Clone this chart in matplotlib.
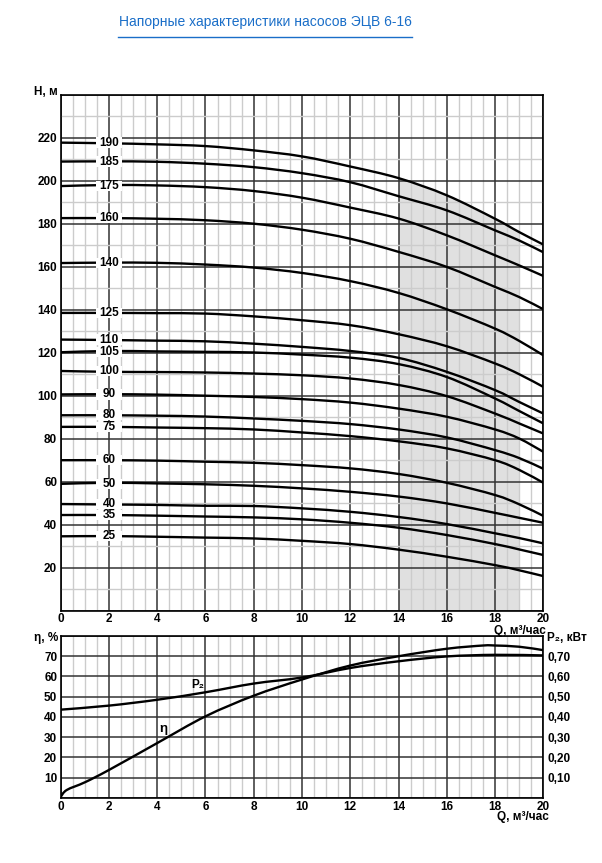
import numpy as np
import matplotlib.pyplot as plt
from matplotlib.patches import Rectangle, PathPatch
from matplotlib.path import Path
from matplotlib.lines import Line2D
from matplotlib.ticker import MultipleLocator, FuncFormatter

plt.rcParams['font.family'] = ['Liberation Sans', 'DejaVu Sans']
plt.rcParams['font.weight'] = 'bold'

# flow points, m3/h
q = [0, 2, 4, 6, 8, 10, 12, 14, 16, 18, 19, 20]

# head curves, m (one per pump model / stage count)
h190 = [217.7, 217.4, 216.9, 216.1, 214.1, 211.3, 206.6, 201.2, 193.2, 182.3, 176.1, 170.3]
h185 = [208.9, 209.0, 208.8, 207.9, 206.3, 203.5, 199.3, 192.8, 186.2, 176.9, 172.2, 166.7]
h175 = [197.5, 198.0, 197.8, 197.0, 195.2, 192.1, 187.5, 182.4, 174.6, 165.3, 160.6, 155.7]
h160 = [182.6, 182.6, 182.3, 181.6, 180.0, 177.2, 173.0, 166.9, 159.9, 150.6, 145.9, 140.2]
h140 = [161.7, 161.9, 161.8, 161.0, 159.6, 157.1, 153.3, 147.8, 140.2, 131.2, 125.5, 118.8]
h125 = [138.5, 138.5, 138.4, 138.2, 136.9, 135.1, 132.8, 128.6, 123.0, 115.0, 110.0, 104.1]
h110 = [126.1, 125.9, 125.6, 125.3, 124.2, 122.7, 120.8, 117.6, 111.1, 102.6, 97.1, 91.7]
h105 = [120.2, 120.8, 120.6, 120.4, 120.1, 119.1, 117.7, 114.7, 108.7, 98.7, 92.9, 87.1]
h100 = [111.5, 111.1, 111.0, 110.8, 110.3, 109.5, 108.0, 105.0, 99.8, 91.7, 87.1, 82.4]
h90 = [100.6, 100.7, 100.5, 100.0, 99.4, 98.4, 96.8, 94.0, 90.2, 84.3, 80.1, 73.9]
h80 = [90.9, 90.9, 90.7, 90.3, 89.4, 88.3, 86.8, 84.3, 80.6, 74.7, 71.0, 66.0]
h75 = [85.5, 85.5, 85.2, 84.9, 84.3, 82.9, 81.2, 78.8, 75.5, 70.0, 65.5, 59.5]
h60 = [70.0, 70.0, 69.8, 69.3, 68.8, 67.7, 66.2, 63.6, 59.5, 53.8, 49.5, 44.1]
h50 = [59.0, 59.5, 59.2, 58.8, 58.1, 56.9, 55.3, 53.1, 49.9, 45.5, 43.2, 40.9]
h40 = [49.6, 49.4, 49.2, 48.8, 48.7, 47.6, 46.0, 43.6, 40.3, 36.0, 33.8, 31.3]
h35 = [44.5, 44.5, 44.2, 43.8, 43.4, 42.5, 40.9, 38.6, 35.2, 31.0, 28.5, 25.9]
h25 = [34.6, 34.7, 34.4, 34.0, 33.6, 32.5, 31.0, 28.4, 25.1, 21.2, 18.8, 16.1]

labels = ['190', '185', '175', '160', '140', '125', '110', '105', '100',
          '90', '80', '75', '60', '50', '40', '35', '25']
heads = [h190, h185, h175, h160, h140, h125, h110, h105, h100,
         h90, h80, h75, h60, h50, h40, h35, h25]

# working range
q_lo, q_hi = 14, 19

# efficiency and power
q_eta = [0, 0.25, 1, 2, 4, 6, 8, 10, 12, 14, 16, 17.5, 18, 19, 20]
eta = [0.5, 3.9, 7.7, 13.8, 27.1, 40.3, 50.5, 58.5, 65.4, 70.0, 73.7, 75.3, 75.3, 74.7, 73.0]
q_p2 = [0, 2, 4, 6, 8, 10, 12, 14, 16, 18, 20]
p2 = [0.436, 0.456, 0.485, 0.522, 0.565, 0.595, 0.642, 0.675, 0.699, 0.707, 0.704]

W, H = 602, 863
blue = '#1a6ec8'
fig = plt.figure(figsize=(W / 100, H / 100), dpi=100)


def fx(px):
    return px / W


def fy(py):
    return 1 - py / H


def smooth(ax, x, y, **kw):
    # curve through the read points (catmull-rom drawn as bezier segments)
    pts = np.column_stack([x, y]).astype(float)
    verts = [pts[0]]
    codes = [Path.MOVETO]
    n = len(pts)
    for i in range(n - 1):
        p0 = pts[i - 1] if i > 0 else pts[i]
        p1, p2_ = pts[i], pts[i + 1]
        p3 = pts[i + 2] if i + 2 < n else pts[i + 1]
        verts += [p1 + (p2_ - p0) / 6, p2_ - (p3 - p1) / 6, p2_]
        codes += [Path.CURVE4] * 3
    ax.add_patch(PathPatch(Path(verts, codes), fc='none', **kw))


x0, x1 = 60.7, 543.3
fs = 8.5

# ---- head chart
ax = fig.add_axes([fx(x0), fy(610.7), (x1 - x0) / W, (610.7 - 94.7) / H])
ax.set_xlim(0, 20)
ax.set_ylim(0, 240)
ax.xaxis.set_major_locator(MultipleLocator(2))
ax.xaxis.set_minor_locator(MultipleLocator(0.5))
ax.yaxis.set_major_locator(MultipleLocator(20))
ax.yaxis.set_minor_locator(MultipleLocator(10))
ax.grid(which='minor', color='#cccccc', lw=1.0)
ax.grid(which='major', color='#333333', lw=1.1)
ax.yaxis.set_major_formatter(FuncFormatter(lambda v, p: '' if v in (0, 240) else f'{v:.0f}'))
ax.tick_params(which='both', length=0, labelsize=fs)
ax.tick_params(axis='y', pad=2.5)
ax.tick_params(axis='x', pad=2)
for s in ax.spines.values():
    s.set_linewidth(1.2)

i0, i1 = q.index(q_lo), q.index(q_hi)
ax.fill_between(q[i0:i1 + 1], 0, h190[i0:i1 + 1], color='#e0e0e0', lw=0, zorder=1)

for name, h in zip(labels, heads):
    smooth(ax, q, h, ec='black', lw=1.7, zorder=2.5)
    ax.add_patch(Rectangle((1.45, h[0] - 2.4), 1.1, 4.8, fc='white', ec='none', zorder=3))
    ax.text(2, h[0], name, ha='center', va='center', fontsize=fs, zorder=4)

# ---- efficiency / power chart
ax2 = fig.add_axes([fx(x0), fy(797.9), (x1 - x0) / W, (797.9 - 636) / H])
ax2.set_xlim(0, 20)
ax2.set_ylim(0, 80)
ax2.xaxis.set_major_locator(MultipleLocator(2))
ax2.xaxis.set_minor_locator(MultipleLocator(0.5))
ax2.yaxis.set_major_locator(MultipleLocator(10))
ax2.grid(which='minor', axis='x', color='#cccccc', lw=1.0)
ax2.grid(which='major', color='#333333', lw=1.1)
ax2.yaxis.set_major_formatter(FuncFormatter(lambda v, p: '' if v in (0, 80) else f'{v:.0f}'))
ax2.tick_params(which='both', length=0, labelsize=fs)
ax2.tick_params(axis='y', pad=2.5)
ax2.tick_params(axis='x', pad=2)
for s in ax2.spines.values():
    s.set_linewidth(1.2)
smooth(ax2, q_eta, eta, ec='black', lw=1.7, zorder=2.5)

axr = ax2.twinx()
axr.set_ylim(0, 0.8)
axr.set_yticks([0.1, 0.2, 0.3, 0.4, 0.5, 0.6, 0.7])
axr.yaxis.set_major_formatter(FuncFormatter(lambda v, p: f'{v:.2f}'.replace('.', ',')))
axr.tick_params(length=0, labelsize=fs, pad=3)
for s in axr.spines.values():
    s.set_visible(False)
smooth(axr, q_p2, p2, ec='black', lw=1.7, zorder=2.5)

ax2.text(5.7, 55.6, 'P₂', ha='center', va='center', fontsize=fs)
ax2.text(4.25, 34, 'η', ha='center', va='center', fontsize=9.5)

# ---- axis titles
fig.text(fx(58), fy(92), 'H, м', ha='right', va='center', fontsize=fs)
fig.text(fx(546), fy(631), 'Q, м³/час', ha='right', va='center', fontsize=fs)
fig.text(fx(58), fy(638), 'η, %', ha='right', va='center', fontsize=fs)
fig.text(fx(547), fy(638), 'P₂, кВт', ha='left', va='center', fontsize=fs)
fig.text(fx(549), fy(817), 'Q, м³/час', ha='right', va='center', fontsize=fs)

# ---- title
fig.text(fx(265), fy(22), 'Напорные характеристики насосов ЭЦВ 6-16',
         ha='center', va='center', fontsize=10, color=blue, weight='normal')
fig.add_artist(Line2D([fx(118), fx(412)], [fy(37.3), fy(37.3)], color=blue, lw=1.0))

fig.savefig('out.png', dpi=100)
